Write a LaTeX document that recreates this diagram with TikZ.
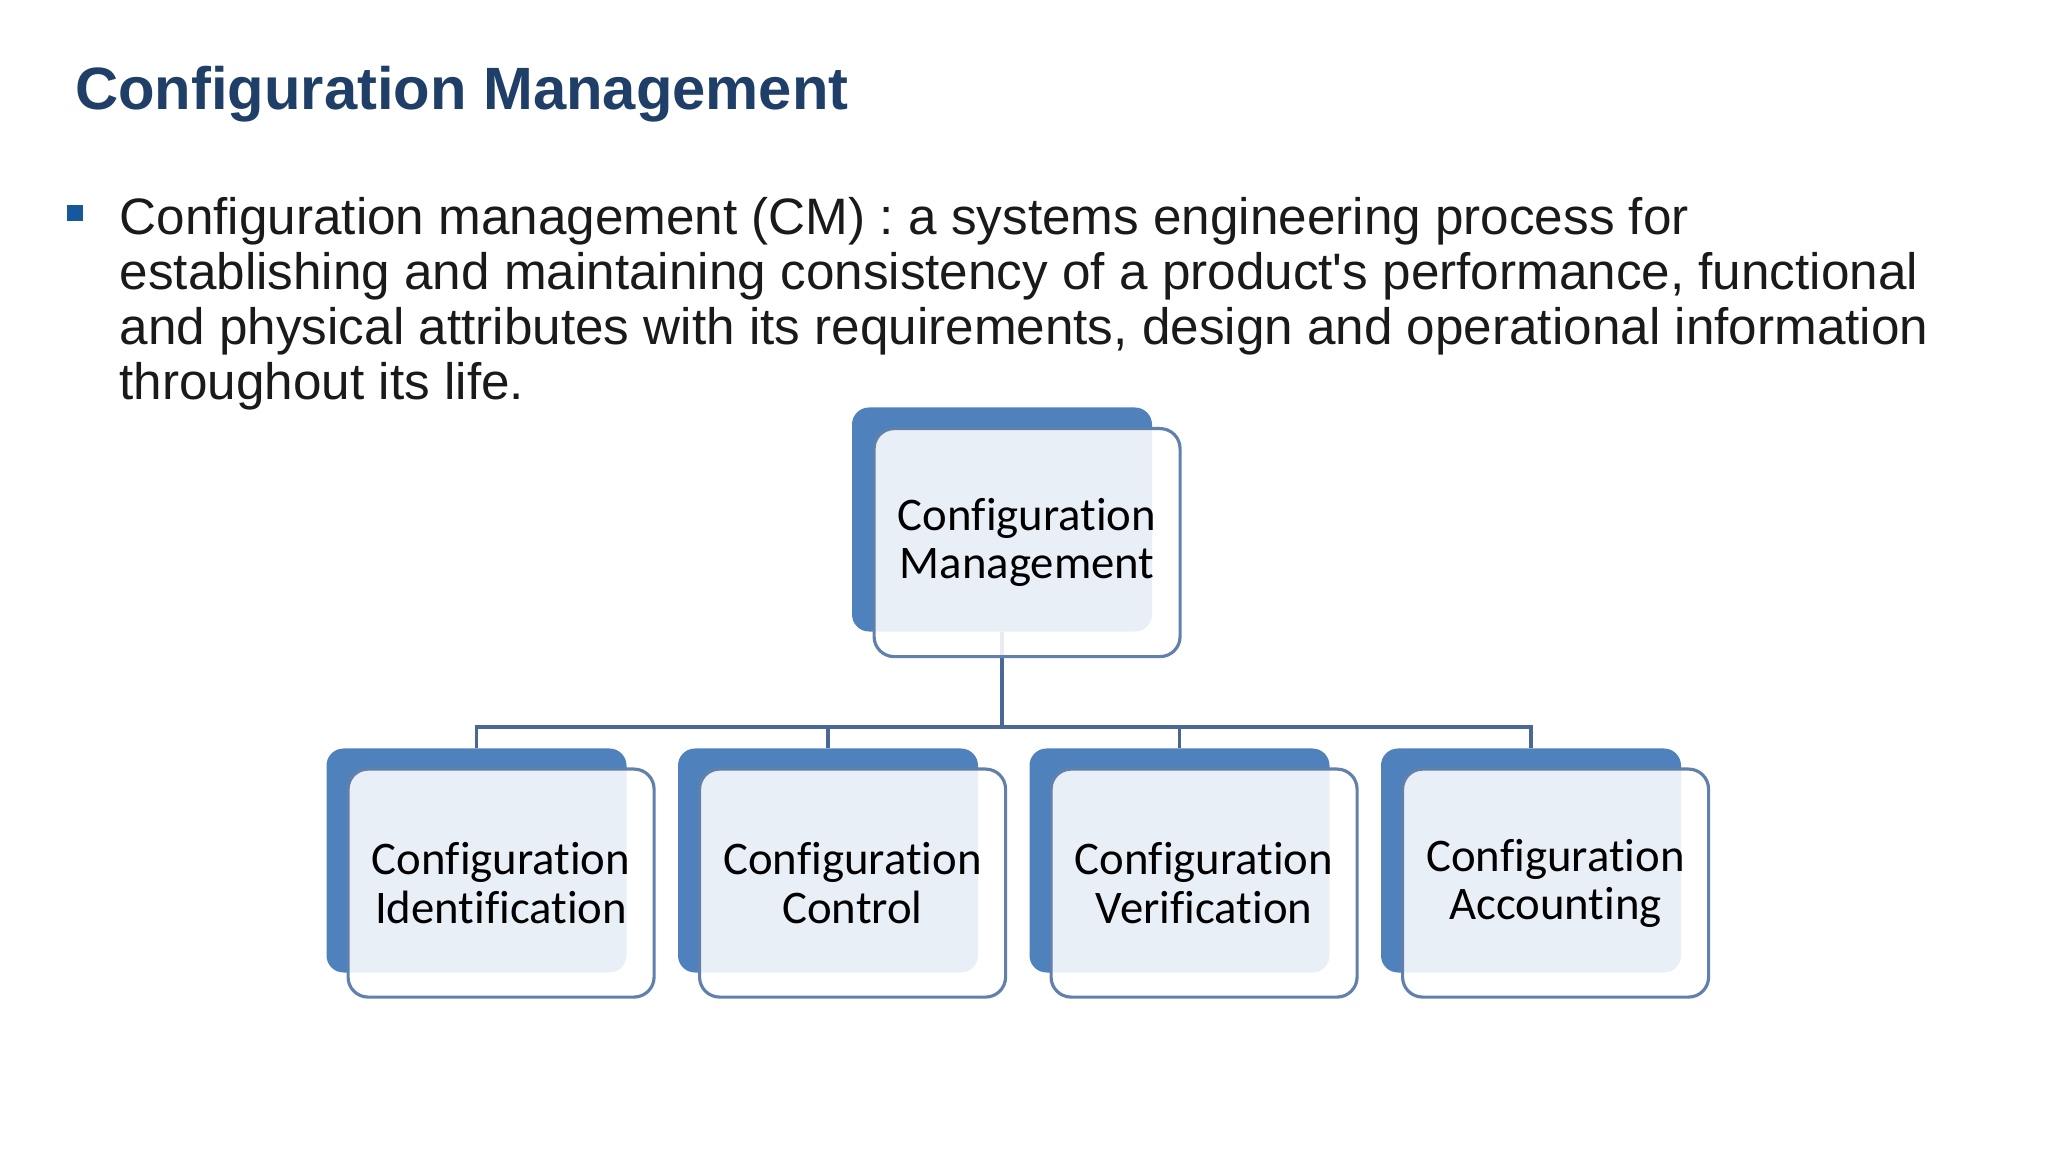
\documentclass[tikz,border=0pt]{standalone}
\usepackage{fontspec}
\setmainfont{Liberation Sans}
\newfontfamily\boxfont[Ligatures=NoCommon]{Carlito}
\usepackage{tikz}
\usetikzlibrary{positioning}

\definecolor{titleblue}{RGB}{31,63,104}
\definecolor{bulletblue}{RGB}{22,88,158}
\definecolor{boxblue}{RGB}{79,129,189}
\definecolor{edgeblue}{RGB}{98,128,172}
\definecolor{linkblue}{RGB}{74,104,150}
\definecolor{bodytext}{RGB}{26,26,26}

\begin{document}
\begin{tikzpicture}[
	back/.style={rounded corners=0.17cm, fill=boxblue, minimum width=3cm, minimum height=2.24cm, inner sep=0pt, outer sep=0pt},
	front/.style={rounded corners=0.2cm, draw=edgeblue, line width=0.9pt, fill=white, fill opacity=0.88, text opacity=1, text=black, minimum width=3.06cm, minimum height=2.28cm, inner sep=0pt, align=center, font=\boxfont\fontsize{13.3}{13.7}\selectfont},
	link/.style={draw=linkblue, line width=0.9pt}
	]
			\useasboundingbox (0,0) rectangle (20.48,-11.52);
			
			% title and definition
			\node[anchor=base west, inner sep=0pt, text=titleblue, font=\bfseries\fontsize{17}{20}\selectfont] (title) at (0.745,-1.10) {Configuration Management};
			\fill[bulletblue] (0.67,-2.05) rectangle (0.83,-2.21);
			\node[anchor=base west, inner sep=0pt, align=left, text=bodytext, font=\fontsize{14.58}{15.65}\selectfont] (def) at (1.19,-4.00) {Configuration management (CM) : a systems engineering process for\\establishing and maintaining consistency of a product\textquotesingle s performance, functional\\and physical attributes with its requirements, design and operational information\\throughout its life.};
			
			% back boxes
			\node[back] (cm) at (10.02,-5.195) {};
			\node[back] (cid) at (4.765,-8.605) {};
			\node[back, right=0.515cm of cid] (cctl) {};
			\node[back, right=0.515cm of cctl] (cver) {};
			\node[back, right=0.515cm of cver] (cacc) {};
			
			% tree lines
			\coordinate (bus) at (0,-7.27);
			\draw[link] (cm.south) -- (cm.south |- bus);
			\draw[link] (cid.north) |- (cacc.north |- bus) -- (cacc.north);
			\draw[link] (cctl.north) -- (cctl.north |- bus);
			\draw[link] (cver.north) -- (cver.north |- bus);
			
			% front boxes
			\node[front, anchor=north west] (cm-f) at ([shift={(0.205,-0.195)}]cm.north west) {Configuration\\Management};
			\node[front, anchor=north west] (cid-f) at ([shift={(0.2,-0.19)}]cid.north west) {Configuration\\Identification};
			\node[front, anchor=north west] (cctl-f) at ([shift={(0.2,-0.19)}]cctl.north west) {Configuration\\Control};
			\node[front, anchor=north west] (cver-f) at ([shift={(0.2,-0.19)}]cver.north west) {Configuration\\Verification};
			\node[front, anchor=north west] (cacc-f) at ([shift={(0.2,-0.19)}]cacc.north west) {Configuration\\Accounting};
			
\end{tikzpicture}
\end{document}
